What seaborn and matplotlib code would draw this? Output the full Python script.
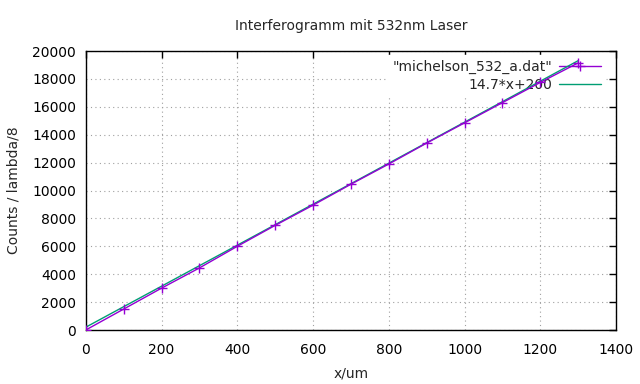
import matplotlib
matplotlib.use("Agg")
import matplotlib.pyplot as plt
import seaborn as sns
import numpy as np
import pandas as pd

x_um = [0, 100, 200, 300, 400, 500, 600, 700, 800, 900, 1000, 1100, 1200, 1300]
counts = [0, 1500, 3000, 4450, 6000, 7500, 8950, 10450, 11900, 13400, 14850, 16300, 17750, 19150]

# Fit-Parameter
slope = 14.7
offset = 200
fit_x = [0, 1300]

x_ticks = [0, 200, 400, 600, 800, 1000, 1200, 1400]
y_ticks = [0, 2000, 4000, 6000, 8000, 10000, 12000, 14000, 16000, 18000, 20000]

sns.set_style("white")
plt.rcParams['font.family'] = ['DejaVu Sans']

df = pd.DataFrame({'x': x_um, 'counts': counts})
fit_df = pd.DataFrame({'x': fit_x, 'y': [slope * v + offset for v in fit_x]})

fig = plt.figure(figsize=(6.4, 3.84), dpi=100)
ax = fig.add_axes([0.134, 0.1406, 0.8285, 0.7264])

sns.lineplot(data=df, x='x', y='counts', ax=ax, color='#9400d3', marker='+',
             markersize=7, markeredgewidth=1, markeredgecolor='#9400d3',
             linewidth=1, label='"michelson_532_a.dat"', zorder=3)
sns.lineplot(data=fit_df, x='x', y='y', ax=ax, color='#009e73', linewidth=1,
             label='14.7*x+200', zorder=2)

ax.set_xlim(0, 1400)
ax.set_ylim(0, 20000)
ax.set_xticks(x_ticks)
ax.set_yticks(y_ticks)
ax.tick_params(direction='in', top=True, right=True, length=5, width=1,
               labelsize=10, colors='black')
ax.tick_params(axis='x', pad=9)
ax.tick_params(axis='y', pad=7)
for s in ax.spines.values():
    s.set_visible(True)
    s.set_color('black')
    s.set_linewidth(1)

ax.set_axisbelow(True)
ax.grid(True, linestyle=(0, (1, 3)), color='#a0a0a0', linewidth=0.8)

ax.set_title('Interferogramm mit 532nm Laser', fontsize=10, pad=15)
ax.set_xlabel('x/um', fontsize=10, labelpad=7)
ax.set_ylabel('Counts / lambda/8', fontsize=10, labelpad=8)

leg = ax.legend(loc='upper right', bbox_to_anchor=(0.987, 1.0),
                markerfirst=False, frameon=True, fontsize=10,
                handlelength=3, borderaxespad=0.3, labelspacing=0.3,
                handletextpad=0.5, borderpad=0.3,
                fancybox=False, edgecolor='white', facecolor='white', framealpha=1)
leg.set_zorder(1.5)
for t in leg.get_texts():
    t.set_ha('right')

fig.savefig('out.png', dpi=100)
